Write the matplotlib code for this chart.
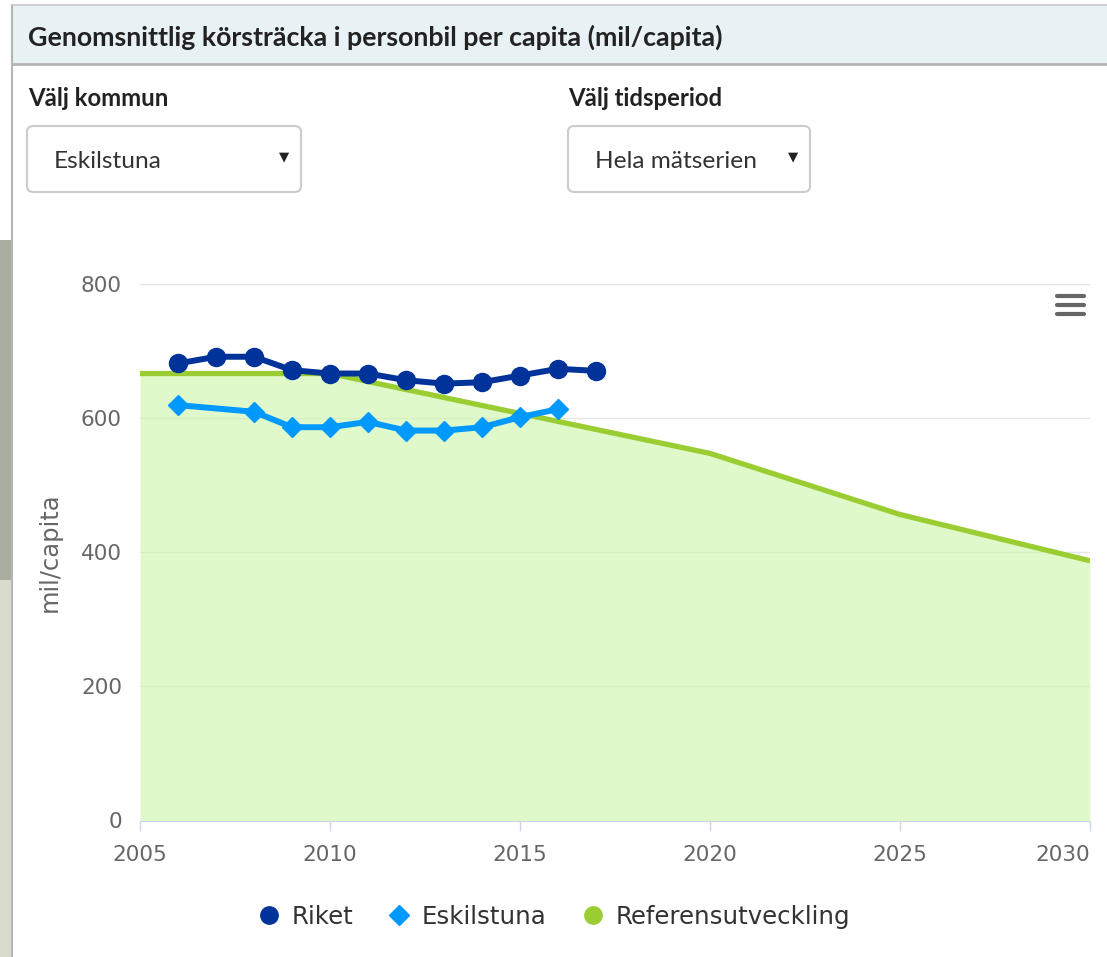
import numpy as np
import matplotlib
matplotlib.use("Agg")
import matplotlib.pyplot as plt
from matplotlib.lines import Line2D
from matplotlib.patches import Rectangle, FancyBboxPatch

# data
years_riket = [2006, 2007, 2008, 2009, 2010, 2011, 2012, 2013, 2014, 2015, 2016, 2017]
riket = [681, 691, 691, 671, 666, 666, 656, 651, 653, 663, 673, 670]

years_esk = [2006, 2008, 2009, 2010, 2011, 2012, 2013, 2014, 2015, 2016]
eskilstuna = [619, 609, 586, 586, 594, 581, 581, 586, 601, 613]

years_ref = [2005, 2010, 2020, 2025, 2030]
referens = [666, 666, 547, 456, 387]

x_ticks = [2005, 2010, 2015, 2020, 2025, 2030]
y_ticks = [0, 200, 400, 600, 800]

W, H = 1107, 957


def fx(x):
    return x / W


def fy(y):
    return 1 - y / H


fig = plt.figure(figsize=(W / 100, H / 100), dpi=100)
fig.patch.set_facecolor("white")

# left strip (page background behind the panel)
fig.patches.append(Rectangle((0, fy(957)), fx(11), fy(240) - fy(957), transform=fig.transFigure,
                             facecolor="#d9dccd", edgecolor="none"))
fig.patches.append(Rectangle((0, fy(580)), fx(11), fy(240) - fy(580), transform=fig.transFigure,
                             facecolor="#a8ae9f", edgecolor="none"))
fig.add_artist(Line2D([fx(12), fx(12)], [0, fy(5)], transform=fig.transFigure, color="#b5b5b5", lw=1.5))

# header band
fig.patches.append(Rectangle((fx(12), fy(63)), 1 - fx(12), fy(5) - fy(63), transform=fig.transFigure,
                             facecolor="#e8f1f4", edgecolor="none"))
fig.add_artist(Line2D([fx(12), 1], [fy(5), fy(5)], transform=fig.transFigure, color="#c8c8c8", lw=1.2))
fig.add_artist(Line2D([fx(12), 1], [fy(63.5), fy(63.5)], transform=fig.transFigure, color="#b4b4b4", lw=2))
fig.text(fx(28), fy(37), "Genomsnittlig körsträcka i personbil per capita (mil/capita)",
         family="Lato", weight="bold", fontsize=19.3, color="#222222", va="center", ha="left")

# selectors
fig.text(fx(28), fy(98), "Välj kommun", family="Lato", weight="bold", fontsize=17.2,
         color="#222222", va="center")
fig.text(fx(568), fy(98), "Välj tidsperiod", family="Lato", weight="bold", fontsize=17.2,
         color="#222222", va="center")
for x0, x1, label in [(27, 301, "Eskilstuna"), (568, 810, "Hela mätserien")]:
    box = FancyBboxPatch((fx(x0), fy(192)), fx(x1 - x0), fy(126) - fy(192),
                         boxstyle="round,pad=0,rounding_size=0.006", transform=fig.transFigure,
                         facecolor="white", edgecolor="#cccccc", lw=1.5)
    fig.patches.append(box)
    fig.text(fx(x0 + 27), fy(161), label, family="Lato", fontsize=17.6, color="#333333", va="center")
    fig.text(fx(x1 - 17), fy(157), "▼", family="DejaVu Sans", fontsize=9.5, color="#222222",
             va="center", ha="center")

# chart
ax = fig.add_axes([fx(140), fy(820.5), fx(1090 - 140), fy(283.6) - fy(820.5)])
ax.set_xlim(2005, 2030)
ax.set_ylim(0, 800)
ax.set_xticks(x_ticks)
ax.set_yticks(y_ticks)
ax.grid(axis="y", color="#e6e6e6", lw=1)
ax.set_axisbelow(True)
for s in ["top", "right", "left"]:
    ax.spines[s].set_visible(False)
ax.spines["bottom"].set_color("#ccd6eb")
ax.spines["bottom"].set_zorder(5)
ax.tick_params(axis="x", length=7.5, width=1, color="#ccd6eb", pad=10, labelsize=15.5, labelcolor="#666666")
ax.tick_params(axis="y", length=0, pad=13, labelsize=15.5, labelcolor="#666666")
# last x label is pulled inside the chart, like the original
ax.get_xticklabels()[-1].set_horizontalalignment("right")
ax.set_ylabel("mil/capita", fontsize=17.5, color="#666666")
ax.yaxis.set_label_coords(-0.082, 0.5)

ax.fill_between(years_ref, referens, 0, color="#ccf5a8", alpha=0.6, lw=0, zorder=1)
ax.plot(years_ref, referens, color="#9acd32", lw=3.8, zorder=2, solid_capstyle="butt")
ax.plot(years_riket, riket, color="#003399", lw=4.3, marker="o", markersize=13, zorder=4)
ax.plot(years_esk, eskilstuna, color="#0099ff", lw=4.3, marker="D", markersize=10.5, zorder=3)

# menu icon
for yy in [296, 305, 314]:
    fig.add_artist(Line2D([fx(1057), fx(1084)], [fy(yy), fy(yy)], transform=fig.transFigure,
                          color="#666666", lw=3, solid_capstyle="round"))

handles = [
    Line2D([], [], ls="none", marker="o", markersize=12.5, color="#003399"),
    Line2D([], [], ls="none", marker="D", markersize=10.5, color="#0099ff"),
    Line2D([], [], ls="none", marker="o", markersize=12.5, color="#9acd32"),
]
fig.legend(handles, ["Riket", "Eskilstuna", "Referensutveckling"], loc="center",
           bbox_to_anchor=(fx(555), fy(917)), ncol=3, frameon=False, fontsize=17.6,
           handlelength=0.75, handletextpad=0.55, columnspacing=1.5, labelcolor="#333333")

fig.savefig("out.png", dpi=100)
